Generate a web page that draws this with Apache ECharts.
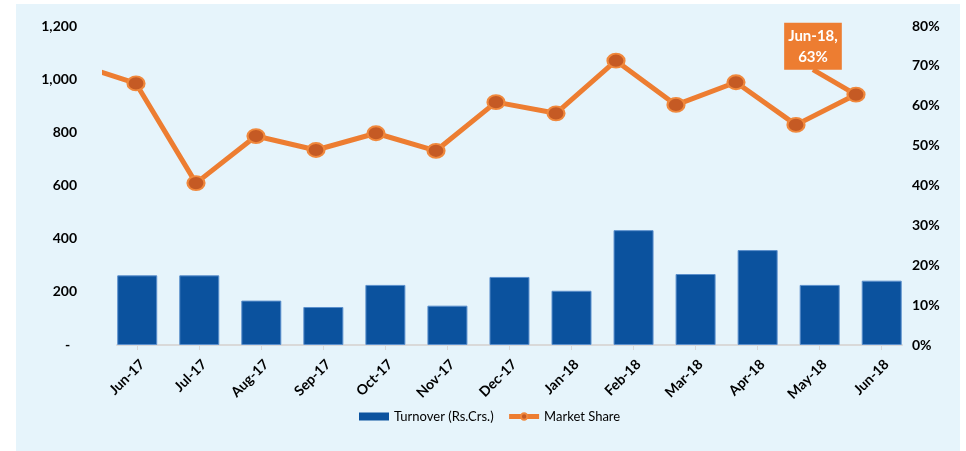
<!DOCTYPE html>
<html>
<head>
<meta charset="utf-8">
<script src="https://cdn.jsdelivr.net/npm/echarts@6/dist/echarts.min.js"></script>
<style>
  html, body { margin: 0; padding: 0; background: #fff; }
  #main { width: 966px; height: 451px; }
</style>
</head>
<body>
<div id="main"></div>
<script>
// 月份
var months = ["Jun-17", "Jul-17", "Aug-17", "Sep-17", "Oct-17", "Nov-17", "Dec-17",
  "Jan-18", "Feb-18", "Mar-18", "Apr-18", "May-18", "Jun-18"];
// 成交额 (Rs.Crs.)
var turnover = [262, 262, 167, 143, 226, 148, 256, 204, 432, 267, 357, 226, 242];
// 市场份额 %
var marketShare = [65.6, 40.6, 52.4, 48.9, 53.1, 48.7, 60.9, 58.1, 71.3, 60.2, 65.9, 55.2, 62.8];
// 前一个月 (May-17) 的份额，只露出一段线
var priorShare = 70.5;

var idx = months.map(function (m, i) { return i; });
var barData = turnover.map(function (v, i) { return [i, v]; });
var lineData = [[-1, priorShare]].concat(marketShare.map(function (v, i) { return [i, v]; }));
var lastIdx = lineData.length - 1;
lineData[lastIdx] = {
  value: lineData[lastIdx],
  label: {
    show: true,
    formatter: months[months.length - 1] + ",\n" + Math.round(marketShare[marketShare.length - 1]) + "%",
    color: "#fff",
    fontFamily: "Lato",
    fontWeight: "bold",
    fontSize: 15,
    lineHeight: 21,
    backgroundColor: "#ed7d31",
    padding: [3, 4, 2, 4],
    position: "top",
    align: "center"
  },
  labelLine: {
    show: true,
    lineStyle: { color: "#ed7d31", width: 5 }
  }
};

var chart = echarts.init(document.getElementById("main"));
var option = {
  animation: false,
  graphic: [{
    type: "rect",
    left: 16,
    top: 4,
    shape: { width: 944, height: 447 },
    style: { fill: "#e6f4fb" },
    z: -10
  }],
  legend: {
    left: 359,
    top: 410,
    padding: 0,
    itemGap: 13,
    itemWidth: 30,
    itemHeight: 8,
    textStyle: { fontFamily: "Lato", fontSize: 13, color: "#000" },
    data: [
      { name: "Turnover (Rs.Crs.)", icon: "rect", itemStyle: { borderWidth: 0 } },
      { name: "Market Share", lineStyle: { width: 5 } }
    ]
  },
  grid: [
    { left: 117, right: 64, top: 26, bottom: 106 },
    { left: 105, right: 64, top: 26, bottom: 106 }
  ],
  xAxis: [
    {
      type: "value",
      gridIndex: 0,
      min: -0.326,
      max: 12.327,
      splitLine: { show: false },
      axisLine: { show: true, onZero: false, lineStyle: { color: "#d9d9d9", width: 2 } },
      axisTick: { show: true, customValues: idx, length: 5, lineStyle: { color: "#d9d9d9", width: 1 } },
      axisLabel: {
        customValues: idx,
        formatter: function (v) { return months[Math.round(v)]; },
        rotate: 45,
        margin: 12,
        verticalAlign: "top",
        fontFamily: "Lato",
        fontWeight: "bold",
        fontSize: 14,
        color: "#000"
      }
    },
    {
      type: "value",
      gridIndex: 1,
      min: -0.5167,
      max: 12.767,
      show: false
    }
  ],
  yAxis: [
    {
      type: "value",
      gridIndex: 0,
      min: 0,
      max: 1200,
      interval: 200,
      splitLine: { show: false },
      axisLine: { show: false },
      axisTick: { show: false },
      axisLabel: {
        margin: 40,
        fontFamily: "Lato",
        fontWeight: "bold",
        fontSize: 14,
        color: "#000",
        formatter: function (v) { return v === 0 ? "-  " : v.toLocaleString("en-US"); }
      }
    },
    {
      type: "value",
      gridIndex: 1,
      position: "right",
      min: 0,
      max: 80,
      interval: 10,
      splitLine: { show: false },
      axisLine: { show: false },
      axisTick: { show: false },
      axisLabel: {
        margin: 10,
        fontFamily: "Lato",
        fontWeight: "bold",
        fontSize: 14,
        color: "#000",
        formatter: function (v) { return v + "%"; }
      }
    }
  ],
  series: [
    {
      name: "Turnover (Rs.Crs.)",
      type: "bar",
      xAxisIndex: 0,
      yAxisIndex: 0,
      barWidth: 40,
      data: barData,
      itemStyle: { color: "#0b529e", borderColor: "#5b8fcc", borderWidth: 1 }
    },
    {
      name: "Market Share",
      type: "line",
      xAxisIndex: 1,
      yAxisIndex: 1,
      clip: true,
      data: lineData,
      symbol: "circle",
      symbolSize: [17, 14],
      lineStyle: { color: "#ed7d31", width: 5 },
      itemStyle: { color: "#c55a24", borderColor: "#f0883c", borderWidth: 2 },
      labelLayout: function (p) {
        if (p.dataIndex === lastIdx) {
          return { dx: -43, dy: -12 };
        }
        return {};
      },
      z: 5
    }
  ]
};
chart.setOption(option);
</script>
</body>
</html>
